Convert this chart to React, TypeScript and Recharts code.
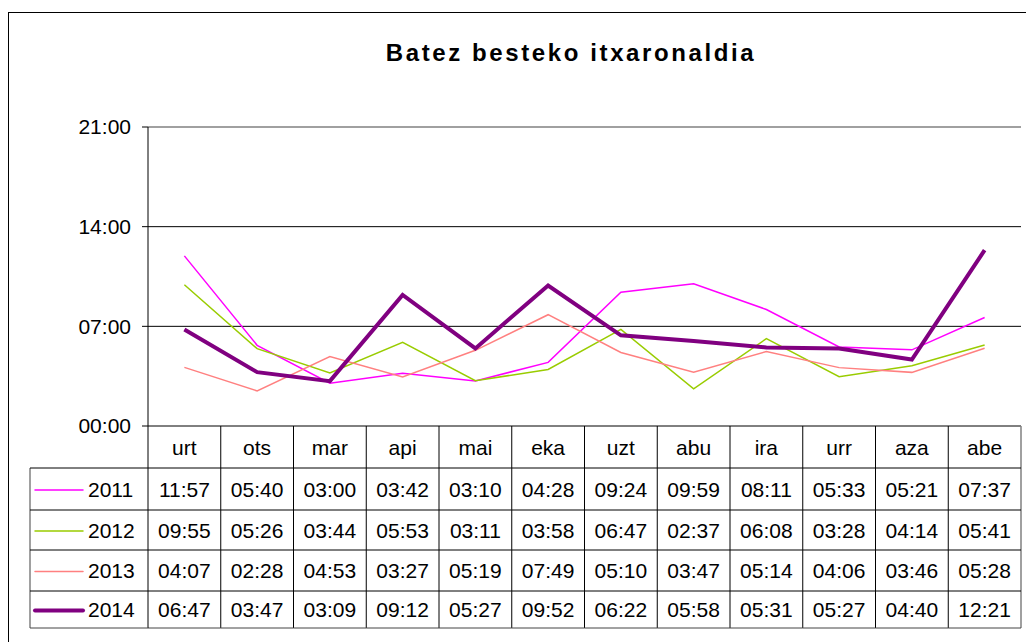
import React from "react";
import { LineChart, Line, XAxis, YAxis, ReferenceLine } from "recharts";

// months (Basque abbreviations) and average waiting times, HH:MM as in the data table
const months = ["urt", "ots", "mar", "api", "mai", "eka", "uzt", "abu", "ira", "urr", "aza", "abe"];
const years = ["2011", "2012", "2013", "2014"];
const v2011 = ["11:57", "05:40", "03:00", "03:42", "03:10", "04:28", "09:24", "09:59", "08:11", "05:33", "05:21", "07:37"];
const v2012 = ["09:55", "05:26", "03:44", "05:53", "03:11", "03:58", "06:47", "02:37", "06:08", "03:28", "04:14", "05:41"];
const v2013 = ["04:07", "02:28", "04:53", "03:27", "05:19", "07:49", "05:10", "03:47", "05:14", "04:06", "03:46", "05:28"];
const v2014 = ["06:47", "03:47", "03:09", "09:12", "05:27", "09:52", "06:22", "05:58", "05:31", "05:27", "04:40", "12:21"];
const yTicks = [0, 420, 840, 1260];

const seriesValues = [v2011, v2012, v2013, v2014];
const colors = ["#FF00FF", "#99CC00", "#FF8080", "#800080"];
const widths = [1.5, 1.5, 1.5, 4];

const toMin = (s: string) => {
  const [h, m] = s.split(":").map(Number);
  return h * 60 + m;
};
const fmt = (v: number) => {
  const h = Math.floor(v / 60);
  const m = v % 60;
  return `${String(h).padStart(2, "0")}:${String(m).padStart(2, "0")}`;
};

const data = months.map((m, i) => {
  const row: any = { month: m };
  years.forEach((y, k) => {
    row["y" + y] = toMin(seriesValues[k][i]);
  });
  return row;
});

const FONT = "'Liberation Sans', Arial, Helvetica, sans-serif";
const FS = 21;
const W = 1026;
const H = 642;
const PLOT_LEFT = 148;
const PLOT_RIGHT = 1021;
const COL_W = (PLOT_RIGHT - PLOT_LEFT) / 12;
const ROWS = [426, 468, 510, 550, 591, 628];
const LEG_LEFT = 30;

const mid = (r: number) => (ROWS[r] + ROWS[r + 1]) / 2 + 7.5;

const TableTick = (props: any) => {
  const { x, index, payload } = props;
  const hw = COL_W / 2;
  const left = x - hw;
  const right = x + hw;
  const txt = { fontFamily: FONT, fontSize: FS, fill: "#000", textAnchor: "middle" as const };
  const els: any[] = [];
  els.push(
    <text key="h" x={x} y={mid(0)} {...txt}>
      {payload.value}
    </text>
  );
  els.push(
    <line key="vr" x1={right} x2={right} y1={ROWS[0]} y2={ROWS[5]} stroke={index === 11 ? "#808080" : "#000"} strokeWidth={index === 11 ? 1.5 : 1} />
  );
  for (let r = 1; r <= 5; r++) {
    els.push(<line key={"hl" + r} x1={left} x2={right} y1={ROWS[r]} y2={ROWS[r]} stroke={r === 5 ? "#444" : "#000"} />);
  }
  seriesValues.forEach((vals, k) => {
    els.push(
      <text key={"v" + k} x={x} y={mid(k + 1)} {...txt}>
        {vals[index]}
      </text>
    );
  });
  if (index === 0) {
    els.push(<line key="vl" x1={left} x2={left} y1={ROWS[0]} y2={ROWS[5]} stroke="#000" />);
    els.push(<line key="lb" x1={LEG_LEFT} x2={LEG_LEFT} y1={ROWS[1]} y2={ROWS[5]} stroke="#808080" strokeWidth={1.5} />);
    for (let r = 1; r <= 5; r++) {
      els.push(<line key={"ll" + r} x1={LEG_LEFT} x2={left} y1={ROWS[r]} y2={ROWS[r]} stroke={r === 5 ? "#444" : "#000"} />);
    }
    years.forEach((y, k) => {
      const cy = (ROWS[k + 1] + ROWS[k + 2]) / 2 + 1;
      els.push(<line key={"sw" + k} x1={35} x2={83} y1={cy} y2={cy} stroke={colors[k]} strokeWidth={widths[k]} strokeLinecap="round" />);
      els.push(
        <text key={"yl" + k} x={88} y={mid(k + 1)} fontFamily={FONT} fontSize={FS} fill="#000">
          {y}
        </text>
      );
    });
  }
  return <g>{els}</g>;
};

export default function App() {
  return (
    <div style={{ position: "absolute", left: 0, top: 0, width: W, height: H, background: "#fff", overflow: "hidden" }}>
      <div
        style={{
          position: "absolute",
          left: 8,
          top: 12,
          width: 1040,
          height: 660,
          border: "1.5px solid #000",
        }}
      />
      <div
        style={{
          position: "absolute",
          left: 0,
          top: 39,
          width: 1142,
          textAlign: "center",
          fontFamily: FONT,
          fontWeight: "bold",
          fontSize: 24,
          letterSpacing: 2.6,
          color: "#000",
        }}
      >
        Batez besteko itxaronaldia
      </div>
      <div style={{ position: "absolute", left: 0, top: 0 }}>
        <LineChart width={W} height={H} data={data} margin={{ top: 127, right: W - PLOT_RIGHT, bottom: 0, left: 88 }}>
          <XAxis
            dataKey="month"
            height={H - ROWS[0]}
            padding={{ left: COL_W / 2, right: COL_W / 2 }}
            axisLine={{ stroke: "#000" }}
            tickLine={false}
            interval={0}
            tick={<TableTick />}
          />
          <YAxis
            width={60}
            domain={[0, 1260]}
            ticks={yTicks}
            tickFormatter={fmt}
            axisLine={{ stroke: "#000" }}
            tickLine={{ stroke: "#000" }}
            tickSize={6}
            tickMargin={11}
            tick={{ fontFamily: FONT, fontSize: FS, fill: "#000" }}
          />
          <YAxis yAxisId="r" orientation="right" width={0} axisLine={{ stroke: "#808080", strokeWidth: 1.5 }} tick={false} tickLine={false} />
          <ReferenceLine y={420} stroke="#000" />
          <ReferenceLine y={840} stroke="#000" />
          <ReferenceLine y={1260} stroke="#808080" strokeWidth={1.5} />
          {years.map((y, k) => (
            <Line
              key={y}
              type="linear"
              dataKey={"y" + y}
              stroke={colors[k]}
              strokeWidth={widths[k]}
              dot={false}
              activeDot={false}
              isAnimationActive={false}
            />
          ))}
        </LineChart>
      </div>
    </div>
  );
}
